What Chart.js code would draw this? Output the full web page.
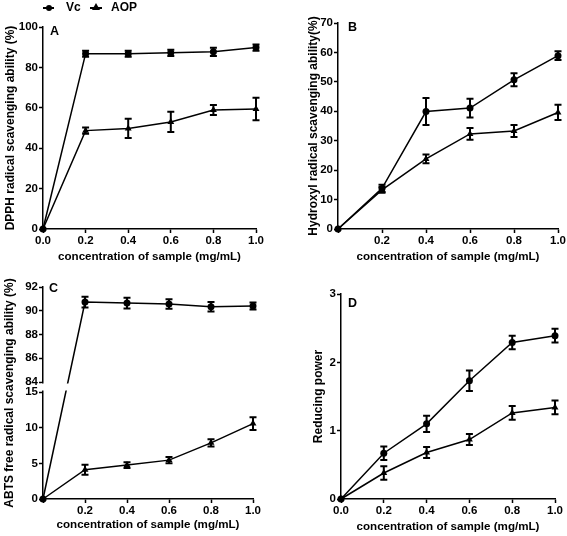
<!DOCTYPE html>
<html>
<head>
<meta charset="utf-8">
<script src="https://cdn.jsdelivr.net/npm/chart.js@4.4.1/dist/chart.umd.min.js"></script>
<style>
  body { margin: 0; background: #fff; }
  #page { position: relative; width: 567px; height: 536px; overflow: hidden; font-family: "Liberation Sans", Arial, sans-serif; }
  #page canvas { position: absolute; left: 0; top: 0; }
  .letter { position: absolute; font-weight: bold; font-size: 12.5px; line-height: 12px; }
  .leg { position: absolute; top: 1px; height: 12px; font-weight: bold; font-size: 12px; line-height: 12px; white-space: nowrap; }
  .sym:before { content: ""; position: absolute; left: 0; right: 0; top: 5.5px; height: 2px; background: #000; }
  .dot { position: absolute; left: 2.5px; top: 3.5px; width: 6px; height: 6px; border-radius: 50%; background: #000; }
  .tri { position: absolute; left: 2px; top: 2px; width: 0; height: 0; border-left: 4px solid transparent; border-right: 4px solid transparent; border-bottom: 7px solid #000; }
</style>
</head>
<body>
<div id="page">
  <canvas id="chartA" width="567" height="536"></canvas>
  <canvas id="chartB" width="567" height="536"></canvas>
  <canvas id="chartC" width="567" height="536"></canvas>
  <canvas id="chartD" width="567" height="536"></canvas>
  <span class="leg sym" style="left:43px;width:11px"><span class="dot"></span></span>
  <span class="leg" style="left:66px">Vc</span>
  <span class="leg sym" style="left:90px;width:12px"><span class="tri"></span></span>
  <span class="leg" style="left:111px">AOP</span>
  <div class="letter" style="left:50px;top:25px">A</div>
  <div class="letter" style="left:348px;top:21px">B</div>
  <div class="letter" style="left:49px;top:282px">C</div>
  <div class="letter" style="left:348px;top:297px">D</div>
</div>
<script>
// concentration of sample (mg/mL)
const concentration = [0, 0.2, 0.4, 0.6, 0.8, 1.0];
const xTicks = [0, 0.2, 0.4, 0.6, 0.8, 1.0];

// A - DPPH
const dpphVc = [0, 86.8, 86.8, 87.2, 87.7, 89.8];
const dpphVcErr = [0, 1.5, 1.5, 1.5, 2.0, 1.5];
const dpphAop = [0, 48.7, 49.8, 53.0, 58.9, 59.4];
const dpphAopErr = [0, 1.5, 4.8, 5.0, 2.5, 5.6];
const dpphTicks = [0, 20, 40, 60, 80, 100];

// B - hydroxyl
const hydroxylVc = [0, 13.8, 39.9, 41.1, 50.7, 58.9];
const hydroxylVcErr = [0, 1.2, 4.6, 3.2, 2.2, 1.5];
const hydroxylAop = [0, 13.3, 23.8, 32.3, 33.3, 39.6];
const hydroxylAopErr = [0, 1.0, 1.5, 2.0, 2.0, 2.6];
const hydroxylTicks = [0, 10, 20, 30, 40, 50, 60, 70];

// C - ABTS (broken axis 15 / 84)
const abtsVc = [0, 90.73, 90.65, 90.56, 90.34, 90.4];
const abtsVcErr = [0, 0.45, 0.45, 0.4, 0.4, 0.3];
const abtsAop = [0, 4.1, 4.75, 5.45, 7.87, 10.57];
const abtsAopErr = [0, 0.7, 0.4, 0.45, 0.5, 0.9];
const abtsTicks = [0, 5, 10, 15, 84, 86, 88, 90, 92];

// D - reducing power
const reducingVc = [0, 0.67, 1.10, 1.73, 2.29, 2.39];
const reducingVcErr = [0, 0.1, 0.12, 0.15, 0.1, 0.1];
const reducingAop = [0, 0.38, 0.68, 0.87, 1.26, 1.34];
const reducingAopErr = [0, 0.1, 0.08, 0.08, 0.1, 0.1];
const reducingTicks = [0, 1, 2, 3];

Chart.defaults.color = '#000';
Chart.defaults.font.family = '"Liberation Sans", Arial, sans-serif';
Chart.defaults.font.weight = 'bold';
Chart.defaults.font.size = 11.5;

// broken y axis of panel C: 0-15 below, 84-92 above
const breakLow = 15, breakHigh = 84, breakGap = 1.4, breakScale = 1.665;
const breakY = v => v <= breakLow ? v : breakLow + breakGap + (v - breakHigh) * breakScale;

const errorBars = {
  id: 'errorBars',
  afterDatasetsDraw(chart) {
    const ctx = chart.ctx, xs = chart.scales.x, ys = chart.scales.y;
    ctx.save();
    ctx.strokeStyle = '#000';
    ctx.lineWidth = 2;
    chart.data.datasets.forEach(ds => {
      ds.errorBars.forEach((b, i) => {
        if (b[0] === b[1]) return;
        const x = xs.getPixelForValue(ds.data[i].x);
        const y1 = ys.getPixelForValue(b[0]), y2 = ys.getPixelForValue(b[1]);
        ctx.beginPath();
        ctx.moveTo(x, y1); ctx.lineTo(x, y2);
        ctx.moveTo(x - 3.5, y1); ctx.lineTo(x + 3.5, y1);
        ctx.moveTo(x - 3.5, y2); ctx.lineTo(x + 3.5, y2);
        ctx.stroke();
      });
    });
    ctx.restore();
  }
};

// white gap across the axis and the Vc line between 15 and 84
const axisBreak = {
  id: 'axisBreak',
  afterDatasetsDraw(chart) {
    const ctx = chart.ctx, ys = chart.scales.y, area = chart.chartArea;
    const lo = ys.getPixelForValue(breakY(breakLow)), hi = ys.getPixelForValue(breakY(breakHigh));
    ctx.save();
    ctx.fillStyle = '#fff';
    ctx.fillRect(area.left - 2, hi + 1.5, area.right - area.left + 2, lo - hi - 3);
    ctx.restore();
  }
};

function series(values, errs, style, map) {
  const f = map || (v => v);
  return {
    data: concentration.map((c, i) => ({ x: c, y: f(values[i]) })),
    errorBars: values.map((v, i) => [f(v - errs[i]), f(v + errs[i])]),
    borderColor: '#000',
    borderWidth: 1.5,
    backgroundColor: '#000',
    pointStyle: style,
    pointRadius: style === 'triangle' ? 4 : 3.5,
    pointBorderWidth: 0,
    pointBackgroundColor: '#000',
    tension: 0,
    clip: false
  };
}

function makeChart(id, opt) {
  const f = opt.map || (v => v);
  const pad = opt.pad;
  new Chart(document.getElementById(id), {
    type: 'line',
    data: {
      datasets: [
        series(opt.vc, opt.vcErr, 'circle', opt.map),
        series(opt.aop, opt.aopErr, 'triangle', opt.map)
      ]
    },
    options: {
      responsive: false,
      animation: false,
      events: [],
      layout: { padding: { left: pad[0], top: pad[1], right: pad[2], bottom: pad[3] } },
      plugins: { legend: { display: false }, tooltip: { enabled: false } },
      scales: {
        x: {
          type: 'linear', min: 0, max: 1,
          border: { display: true, color: '#000', width: 1.5 },
          grid: { drawOnChartArea: false, drawTicks: true, tickLength: 4, tickColor: '#000', tickWidth: 1.5 },
          ticks: {
            padding: 1, autoSkip: false, maxRotation: 0,
            callback: (v, i) => (v === 0 && !opt.zeroLabel) ? '' : v.toFixed(1)
          },
          afterBuildTicks: s => { s.ticks = xTicks.map(v => ({ value: v })); },
          afterFit: s => { s.height = opt.xh; s.paddingLeft = 0; s.paddingRight = 0; },
          title: { display: true, text: 'concentration of sample (mg/mL)', padding: 0, font: { size: 11.6, weight: 'bold' } }
        },
        y: {
          type: 'linear', min: f(opt.yTicks[0]), max: f(opt.yTicks[opt.yTicks.length - 1]),
          border: { display: true, color: '#000', width: 1.5 },
          grid: { drawOnChartArea: false, drawTicks: true, tickLength: 4, tickColor: '#000', tickWidth: 1.5 },
          ticks: { padding: 1, autoSkip: false, callback: (v, i, t) => String(t[i].raw) },
          afterBuildTicks: s => { s.ticks = opt.yTicks.map(v => ({ value: f(v), raw: v })); },
          afterFit: s => { s.width = opt.yw; s.paddingTop = 0; s.paddingBottom = 0; },
          title: { display: true, text: opt.yTitle, padding: 0, font: { size: 12, weight: 'bold' } }
        }
      }
    },
    plugins: opt.map ? [axisBreak, errorBars] : [errorBars]
  });
}

makeChart('chartA', {
  vc: dpphVc, vcErr: dpphVcErr, aop: dpphAop, aopErr: dpphAopErr,
  yTicks: dpphTicks, yTitle: 'DPPH radical scavenging ability (%)',
  zeroLabel: true, yw: 40, xh: 35, pad: [3, 27, 311, 272]
});
makeChart('chartB', {
  vc: hydroxylVc, vcErr: hydroxylVcErr, aop: hydroxylAop, aopErr: hydroxylAopErr,
  yTicks: hydroxylTicks, yTitle: 'Hydroxyl radical scavenging ability(%)',
  zeroLabel: false, yw: 32, xh: 35, pad: [306, 23, 9, 272]
});
makeChart('chartC', {
  vc: abtsVc, vcErr: abtsVcErr, aop: abtsAop, aopErr: abtsAopErr,
  yTicks: abtsTicks, yTitle: 'ABTS free radical scavenging ability (%)', map: breakY,
  zeroLabel: false, yw: 41, xh: 33, pad: [2, 287, 314, 4]
});
makeChart('chartD', {
  vc: reducingVc, vcErr: reducingVcErr, aop: reducingAop, aopErr: reducingAopErr,
  yTicks: reducingTicks, yTitle: 'Reducing power',
  zeroLabel: true, yw: 30, xh: 35, pad: [311, 294, 12, 2]
});
</script>
</body>
</html>
